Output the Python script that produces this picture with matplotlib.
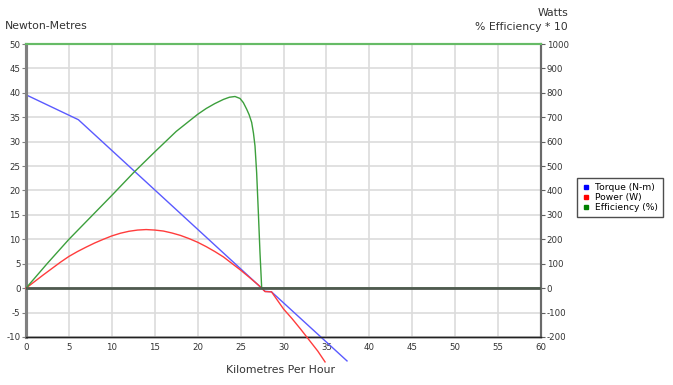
import matplotlib
matplotlib.use("Agg")
import matplotlib.pyplot as plt
from matplotlib.lines import Line2D

plt.rcParams["axes.unicode_minus"] = False

# ── Données ───────────────────────────────────────────────────────
speed_torque = [0, 6.1, 27.46, 27.85, 28.6, 37.4]
torque       = [39.6, 34.5, 0, -0.65, -0.75, -14.9]

speed_power  = [0, 1, 2, 3, 4, 5, 6, 7, 8, 9, 10, 11, 12, 13, 14, 15, 16, 17, 18,
                19, 20, 21, 22, 23, 24, 25, 26, 27, 27.46, 27.85, 28.6, 29, 30,
                31, 32, 33, 34, 34.84]
power        = [0, 27, 54, 80, 106, 130, 150, 168, 185, 200, 214, 225, 233, 238,
                240, 238, 234, 226, 216, 203, 188, 170, 150, 128, 101, 74, 45, 15,
                0, -14, -15, -35, -85, -125, -168, -213, -258, -302]

speed_eff    = [0, 2.5, 5, 7.5, 10, 12.5, 15, 17.5, 20, 21, 22, 23, 23.7, 24.35,
                24.93, 25.32, 25.71, 26.0, 26.29, 26.5, 26.68, 26.87, 27.07, 27.26,
                27.46, 60]
efficiency   = [0, 10.2, 20, 29, 38, 47.2, 55.8, 64.2, 71.2, 73.6, 75.6, 77.3, 78.2,
                78.5, 77.7, 76.0, 73.3, 71.0, 67.9, 63.5, 58.2, 47.4, 31, 14.6,
                0, 0]   # en %

x_ticks  = list(range(0, 61, 5))
yl_ticks = list(range(-10, 51, 5))
yr_ticks = list(range(-200, 1001, 100))

BLUE  = "#5a5aff"
RED   = "#ff3c3c"
GREEN = "#3c9f3c"
GRID  = "#dcdcdc"

fig = plt.figure(figsize=(6.73, 3.85), dpi=100)
ax = fig.add_axes([26/673, 1 - 337/385, 515/673, 293/385])
ax2 = ax.twinx()

ax.set_xlim(0, 60)
ax.set_ylim(-10, 50)
ax2.set_ylim(-200, 1000)

ax.set_xticks(x_ticks)
ax.set_yticks(yl_ticks)
ax2.set_yticks(yr_ticks)
ax.grid(True, color=GRID, lw=1.2)
ax.set_axisbelow(True)

ax.tick_params(axis="y", labelsize=6.2, length=3, color="#808080", pad=1, labelcolor="#333333")
ax.tick_params(axis="x", labelsize=6.2, length=0, pad=4, labelcolor="#333333")
ax2.tick_params(axis="y", labelsize=6.2, length=3, color="#606060", pad=1, labelcolor="#333333")

for a in (ax, ax2):
    a.spines["left"].set_color("#808080")
    a.spines["left"].set_linewidth(2.2)
    a.spines["right"].set_color("#6a6a6a")
    a.spines["right"].set_linewidth(1.5)
    a.spines["bottom"].set_color("#222222")
    a.spines["bottom"].set_linewidth(1)
    a.spines["top"].set_color("#66bb66")
    a.spines["top"].set_linewidth(1.5)

# Courbes
ax.plot(speed_torque, torque, color=BLUE, lw=1, clip_on=False, zorder=3)
ax2.plot(speed_power, power, color=RED, lw=1, clip_on=False, zorder=3)
ax2.plot(speed_eff, [e * 10 for e in efficiency], color=GREEN, lw=1, zorder=3)
ax2.axhline(0, color="#4f5a4f", lw=2, zorder=4)

# Titres d'axes
fig.text(5/673, 1 - 26/385, "Newton-Metres", fontsize=7.8, color="#333333",
         ha="left", va="center")
fig.text(568/673, 1 - 13/385, "Watts", fontsize=7.8, color="#333333",
         ha="right", va="center")
fig.text(568/673, 1 - 27/385, "% Efficiency * 10", fontsize=7.8, color="#333333",
         ha="right", va="center")
fig.text(280/673, 1 - 370/385, "Kilometres Per Hour", fontsize=7.8, color="#333333",
         ha="center", va="center")

# Légende
handles = [Line2D([], [], ls="none", marker="s", ms=3, color="#0000ff", label="Torque (N-m)"),
           Line2D([], [], ls="none", marker="s", ms=3, color="#ff0000", label="Power (W)"),
           Line2D([], [], ls="none", marker="s", ms=3, color="#008000", label="Efficiency (%)")]
leg = fig.legend(handles=handles, loc="upper left",
                 bbox_to_anchor=(577/673, 1 - 178/385), fontsize=6.6,
                 frameon=True, fancybox=False, edgecolor="#222222",
                 handlelength=0.8, handletextpad=0.6, labelspacing=0.1,
                 borderpad=0.55, borderaxespad=0)
leg.get_frame().set_linewidth(1)

fig.savefig("out.png", dpi=100)
